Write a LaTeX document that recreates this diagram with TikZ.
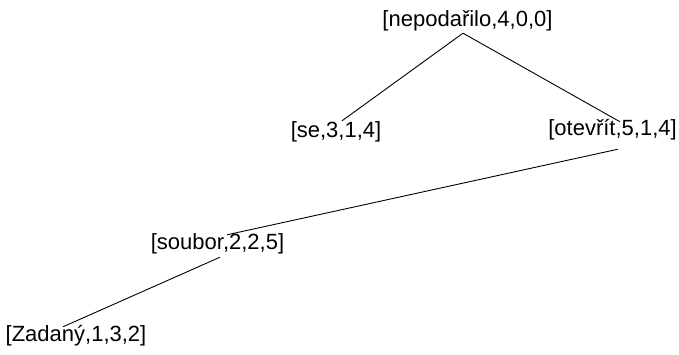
\documentclass[tikz,border=0pt]{standalone}
\usepackage{fontspec}
\setmainfont{Liberation Sans}
\tikzset{
  lbl/.style={anchor=base, inner sep=1pt, text height=16pt, text depth=5pt, font=\fontsize{22}{26}\selectfont},
  edge/.style={draw=black, line width=0.9pt}
}
\begin{document}
\begin{tikzpicture}[x=1pt,y=-1pt]
\useasboundingbox[fill=white] (0,0) rectangle (679,355);
\node[lbl] (top) at (467.5,27) {[nepodařilo,4,0,0]};
\node[lbl] (se) at (336,138) {[se,3,1,4]};
\node[lbl] (ot) at (612.5,136) {[otevřít,5,1,4]};
\node[lbl] (so) at (217.5,249) {[soubor,2,2,5]};
\node[lbl] (za) at (76,341) {[Zadaný,1,3,2]};
\draw[edge] ([xshift=-4.5pt]top.south) -- ([xshift=6pt]se.north);
\draw[edge] ([xshift=-4.5pt]top.south) -- ([xshift=7.5pt,yshift=-3pt]ot.north);
\draw[edge] ([xshift=5.5pt,yshift=-7pt]ot.south) -- ([xshift=9.5pt,yshift=-3pt]so.north);
\draw[edge] ([xshift=2.5pt,yshift=-2pt]so.south) -- ([xshift=-13pt,yshift=-3pt]za.north);
\end{tikzpicture}
\end{document}
